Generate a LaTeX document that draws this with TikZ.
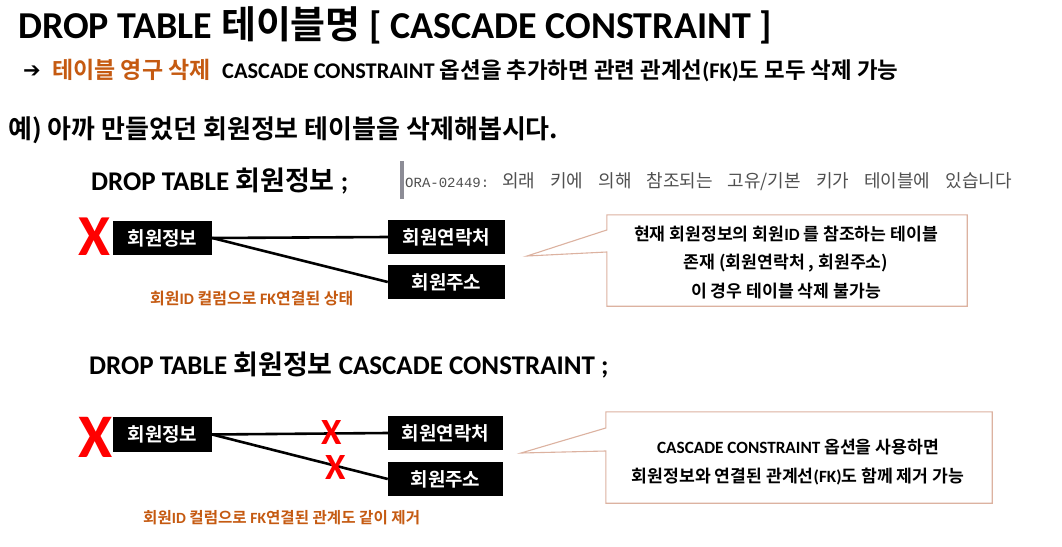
\documentclass[tikz,border=0pt]{standalone}
\usepackage{fontspec}
\setmainfont{Carlito}
\newfontfamily\kr{Noto Sans CJK KR}[BoldFont={Noto Sans CJK KR Bold}]
\newfontfamily\mono{Liberation Mono}
\newfontfamily\dv{DejaVu Sans}
\definecolor{orng}{HTML}{C55A11}
\definecolor{callb}{RGB}{220,178,160}
\definecolor{oragray}{RGB}{80,80,80}
\definecolor{barg}{RGB}{140,140,150}
\newcommand\K[1]{{\kr #1}}
\newcommand\fs[1]{\fontsize{#1}{#1}\selectfont}
\begin{document}
\begin{tikzpicture}[x=1pt,y=-1pt,
  txt/.style={inner sep=0pt, anchor=base west},
  tbl/.style={fill=black, text=white, inner sep=0pt, minimum height=34pt, font={\bfseries\fs{19}}},
  fk/.style={line width=2.6pt, black},
  bigx/.style={inner sep=0pt, anchor=base west, text=red, font={\bfseries\fs{58}}},
  smx/.style={inner sep=0pt, anchor=base west, text=red, font={\bfseries\fs{37}}},
  callout/.style={draw=callb, line width=1.1pt},
  ctext/.style={inner sep=0pt, align=center, font={\bfseries\fontsize{17.2}{28.5}\selectfont}},
  orlabel/.style={inner sep=0pt, anchor=base west, text=orng, font={\bfseries\fs{16}}}
]
\useasboundingbox[fill=white] (0,0) rectangle (1062,546);

% titles
\node[txt, font={\bfseries\fs{38}}] (title) at (18,38) {DROP TABLE \K{테이블명} [ CASCADE CONSTRAINT ]};
\node[txt, font={\bfseries\fs{21}}] (arr) at (23,77) {\dv ➔};
\node[txt, text=orng, font={\bfseries\fs{23}}] (l2a) at (52,78) {\K{테이블 영구 삭제}};
\node[txt, font={\bfseries\fs{22.4}}] (l2b) at (222,78) {CASCADE CONSTRAINT \K{옵션을 추가하면 관련 관계선}(FK)\K{도 모두 삭제 가능}};
\node[txt, font={\bfseries\fs{26}}] (ex) at (8,138) {\K{예) 아까 만들었던 회원정보 테이블을 삭제해봅시다.}};

% first example
\node[txt, font={\bfseries\fs{27}}] (cmd1) at (91,190) {DROP TABLE \K{회원정보} ;};
\fill[barg] (400,161) rectangle (404,199);
\node[txt, text=oragray, font={\mdseries\fs{14}}] (ora) at (405,187) {\mono ORA-02449:\kr\fs{18}\spaceskip=15pt plus 0pt minus 0pt\xspaceskip=15pt\relax\hspace{13pt}외래 키에 의해 참조되는 고유/기본 키가 테이블에 있습니다};

\node[bigx] (x1) at (78,255) {X};
\node[tbl, minimum width=99pt] (m1) at (162.5,238) {\K{회원정보}};
\node[tbl, minimum width=117pt] (c1) at (446.5,237) {\K{회원연락처}};
\node[tbl, minimum width=117pt] (a1) at (446.5,282) {\K{회원주소}};
\draw[fk] (m1.east) -- (c1.west);
\draw[fk] (m1.east) -- (a1.west);
\node[orlabel] (o1) at (150,304) {\K{회원}ID \K{컬럼으로} FK\K{연결된 상태}};

\node[inner sep=0pt, minimum width=360pt, minimum height=91pt] (cb1) at (787,260.5) {};
\coordinate (tip1) at (527,256);
\draw[callout] (cb1.north west) -- (cb1.north east) -- (cb1.south east) -- (cb1.south west)
  -- ([yshift=8.5pt]cb1.west) -- (tip1) -- ([yshift=30.5pt]cb1.west) -- cycle;
\node[ctext] (t1) at (786,262.5) {\K{현재 회원정보의 회원}ID \K{를 참조하는 테이블}\\\K{존재 (회원연락처 , 회원주소)}\\\K{이 경우 테이블 삭제 불가능}};

% second example
\node[txt, font={\bfseries\fs{27}}] (cmd2) at (89,374) {DROP TABLE \K{회원정보} CASCADE CONSTRAINT ;};
\node[bigx, font={\bfseries\fs{62}}] (x2) at (78,457) {X};
\node[tbl, minimum width=99pt, minimum height=35pt] (m2) at (162.5,434.5) {\K{회원정보}};
\node[tbl, minimum width=115pt] (c2) at (445.5,433) {\K{회원연락처}};
\node[tbl, minimum width=115pt] (a2) at (445.5,479) {\K{회원주소}};
\draw[fk] (m2.east) -- (c2.west);
\draw[fk] (m2.east) -- (a2.west);
\node[smx] (sx1) at (321,444) {X};
\node[smx] (sx2) at (325,479) {X};
\node[orlabel, font={\bfseries\fs{15.6}}] (o2) at (143,523) {\K{회원}ID \K{컬럼으로} FK\K{연결된 관계도 같이 제거}};

\node[inner sep=0pt, minimum width=386pt, minimum height=91pt] (cb2) at (799,457.5) {};
\coordinate (tip2) at (521,453);
\draw[callout] (cb2.north west) -- (cb2.north east) -- (cb2.south east) -- (cb2.south west)
  -- ([yshift=6.5pt]cb2.west) -- (tip2) -- ([yshift=29.5pt]cb2.west) -- cycle;
\node[ctext] (t2) at (798,462) {CASCADE CONSTRAINT \K{옵션을 사용하면}\\\K{회원정보와 연결된 관계선}(FK)\K{도 함께 제거 가능}};
\end{tikzpicture}
\end{document}
